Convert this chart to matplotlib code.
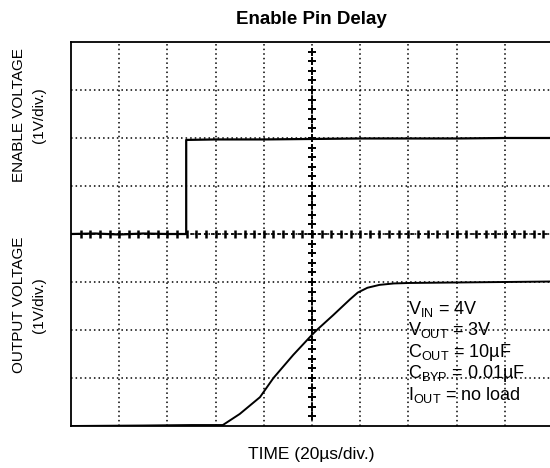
import matplotlib
matplotlib.use("Agg")
import matplotlib.pyplot as plt
import numpy as np

plt.rcParams['font.family'] = ['Liberation Sans', 'DejaVu Sans']
plt.rcParams['mathtext.fontset'] = 'custom'
plt.rcParams['mathtext.rm'] = 'Liberation Sans'

# scope traces, in divisions (x: 20us/div, y: 1V/div, 8 divisions tall)
enable_t = [0.0, 0.5, 1.0, 1.5, 2.0, 2.39, 2.39, 3.0, 4.0, 5.0, 6.0, 7.0, 8.0, 9.0, 9.94]
enable_v = [4.0, 4.01, 3.99, 4.01, 4.0, 4.0, 5.96, 5.97, 5.97, 5.98, 5.99, 5.99, 5.99, 6.0, 6.0]

output_t = [0.0, 1.5, 2.5, 3.15, 3.5, 3.92, 4.2, 4.61, 5.0, 5.1, 5.44, 5.79, 5.95, 6.15, 6.4, 6.7, 7.03, 8.0, 9.0, 9.94]
output_v = [0.0, 0.01, 0.02, 0.02, 0.25, 0.6, 1.0, 1.48, 1.9, 2.0, 2.31, 2.64, 2.78, 2.88, 2.94, 2.97, 2.98, 2.99, 3.0, 3.01]

conditions = [r"V$_\mathregular{IN}$ = 4V",
              r"V$_\mathregular{OUT}$ = 3V",
              r"C$_\mathregular{OUT}$ = 10µF",
              r"C$_\mathregular{BYP}$ = 0.01µF",
              r"I$_\mathregular{OUT}$ = no load"]

fig = plt.figure(figsize=(5.5, 4.68), dpi=100)
ax = fig.add_axes([71 / 550, 42 / 468, 479 / 550, 384 / 468])
ax.set_xlim(0, 479 / 48.2)
ax.set_ylim(0, 8)

# dotted graticule
for x in range(1, 10):
    ax.axvline(x, color='black', lw=1.1, ls=(0, (1, 2)), zorder=1)
for y in range(1, 8):
    ax.axhline(y, color='black', lw=1.1, ls=(0, (1, 2)), zorder=1)

# centre cross with sub-division ticks
ax.axhline(4, color='black', lw=1.2, ls=(0, (2, 2)), zorder=1)
sub_x = np.arange(0.2, 10, 0.2)
sub_y = np.arange(0.2, 8, 0.2)
ax.plot(np.full_like(sub_y, 5.0), sub_y, ls='none', marker='+', ms=5.5, mew=1.4, color='black', zorder=2)
ax.plot(sub_x, np.full_like(sub_x, 4.0), ls='none', marker='|', ms=5.5, mew=1.8, color='black', zorder=2)

ax.plot(enable_t, enable_v, color='black', lw=1.6, zorder=3)
ax.plot(output_t, output_v, color='black', lw=1.4, zorder=3)

for i, s in enumerate(conditions):
    ax.text(7.0, 2.44 - i * 0.45, s, fontsize=13, va='center', ha='left', zorder=4)

ax.set_xticks([])
ax.set_yticks([])
ax.spines['right'].set_visible(False)
for sp in ['left', 'top', 'bottom']:
    ax.spines[sp].set_linewidth(1.3)

fig.text(311 / 550, 1 - 20 / 468, "Enable Pin Delay", ha='center', va='center',
         fontsize=13.5, fontweight='bold')
fig.text(311 / 550, 1 - 455 / 468, "TIME (20µs/div.)", ha='center', va='center', fontsize=12.5)
fig.text(19 / 550, 1 - 115 / 468, "ENABLE VOLTAGE", rotation=90, ha='center', va='center', fontsize=11)
fig.text(39 / 550, 1 - 115 / 468, "(1V/div.)", rotation=90, ha='center', va='center', fontsize=11)
fig.text(19 / 550, 1 - 305 / 468, "OUTPUT VOLTAGE", rotation=90, ha='center', va='center', fontsize=11)
fig.text(39 / 550, 1 - 305 / 468, "(1V/div.)", rotation=90, ha='center', va='center', fontsize=11)

fig.savefig("out.png", dpi=100)
